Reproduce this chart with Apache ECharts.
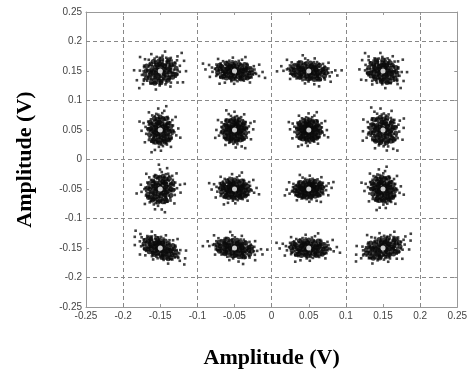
<!DOCTYPE html>
<html>
<head>
<meta charset="utf-8">
<script src="https://cdn.jsdelivr.net/npm/echarts@6/dist/echarts.min.js"></script>
<style>
  html, body { margin: 0; padding: 0; background: #fff; }
  #main { width: 470px; height: 376px; }
</style>
</head>
<body>
<div id="main"></div>
<script>
// ideal constellation points (16-QAM)
var levelsX = [-0.15, -0.05, 0.05, 0.15];
var levelsY = [0.15, 0.05, -0.05, -0.15];

// per-cluster spread, row by row (top row first)
var spreadX = [0.013, 0.014, 0.014, 0.012,
               0.009, 0.009, 0.009, 0.010,
               0.010, 0.011, 0.011, 0.009,
               0.014, 0.014, 0.014, 0.014];
var spreadY = [0.011, 0.008, 0.008, 0.010,
               0.013, 0.011, 0.010, 0.013,
               0.013, 0.009, 0.008, 0.012,
               0.008, 0.008, 0.008, 0.009];
var tilt = [30, -5, -10, -35,
            0, 5, -5, 10,
            -10, 0, 5, 5,
            -30, -15, 0, 20];
var mirror = [1, -1, 1, -1,
              -1, 1, -1, 1,
              1, -1, 1, -1,
              -1, 1, -1, 1];

// received noise offsets (tenths of one spread unit), estimated shape of a cloud
var noiseDx = [0, 4, -5, 2, -3, 8, -8, 6, -6, 1, 10, -11, 3, -2, 11, -10, 7, -6, 9, -9,
  5, -4, 2, -1, 12, -12, 0, 1, -2, 3, 6, -6, 4, -3, 8, -8, 10, -11, 5, -4,
  13, -13, 1, -3, 9, -8, 12, -12, 7, -7, 0, 7, -7, 1, 3, -3, 5, -5, 9, -9,
  13, -12, 4, -5, 15, -14, 2, -1, 6, -6,
  17, -18, 16, -15, 8, -9, -11, 10, 19, -20, 3, -2, 14, -15, 13, -12, 21, -19, 6, -4,
  18, -17, 12, -10, 17, -18, 22, -21, 2, -3,
  25, -24, 8, -6, 23, -23, 17, -16, 28, -27, 3, -1, 31, -30, 13, -9];
var noiseDy = [3, -2, 1, 7, -6, 2, -3, -7, 6, -10, 5, -1, 11, -12, -4, 4, 9, -9, -8, 7,
  4, -3, -5, 5, 1, 3, 12, -1, 2, -3, 1, -2, 8, -8, -5, 5, -10, 9, -12, 11,
  4, -5, 14, -14, 12, -11, 8, -7, -13, 13, -7, -1, 0, 8, 2, -1, -6, 3, 5, -6,
  -7, 8, -15, 15, -1, 0, 16, -16, 13, -13,
  7, -5, -10, 10, 18, -17, 17, -17, 2, -1, 20, -19, 14, -12, -15, 15, -5, 6, 21, -21,
  11, -11, 19, -19, -13, 13, 4, -3, -22, 22,
  9, -7, -26, 25, -16, 17, 23, -22, -1, 2, 28, -27, 11, -10, -29, 31];

// the solid dark body of each cloud
var coreDx = [1, -3, 5, -4, 2, 0,
  7, -2, 4, -8, 9, -6, 3, -9, 8, -7, 6, -10, 1, 11, -1,
  14, -14, 13, -12, 10, -11, 5, -4, 3, -6, 16, -16, 15, -15, 9, -9, 12, -13, 0, 1, 17, -17, 7, -7];
var coreDy = [2, 4, -1, -3, -5, 0,
  4, 8, 9, 1, -3, -8, -9, -6, -7, 7, 7, 3, 10, -1, -11,
  2, -2, 8, 9, -12, -12, 14, 15, -15, -14, -6, 5, 10, -9, 15, 15, -14, -13, 17, -17, 1, -1, -16, -16];

var gridLines = [-0.2, -0.1, 0, 0.1, 0.2];

function spread(dxList, dyList) {
  var out = [];
  for (var r = 0; r < levelsY.length; r++) {
    for (var c = 0; c < levelsX.length; c++) {
      var k = r * 4 + c;
      var a = tilt[k] * Math.PI / 180;
      for (var i = 0; i < dxList.length; i++) {
        var u = mirror[k] * dxList[i] / 10 * spreadX[k];
        var v = dyList[i] / 10 * spreadY[k];
        out.push([levelsX[c] + u * Math.cos(a) - v * Math.sin(a),
                  levelsY[r] + u * Math.sin(a) + v * Math.cos(a)]);
      }
    }
  }
  return out;
}

var cloud = spread(noiseDx, noiseDy);
var core = spread(coreDx, coreDy);
var centers = [];
levelsY.forEach(function (y) {
  levelsX.forEach(function (x) { centers.push([x, y]); });
});

var myChart = echarts.init(document.getElementById("main"));

var tickLabel = { fontFamily: "Liberation Sans", fontSize: 10, color: "#444", margin: 4 };
var frame = { show: true, onZero: false, lineStyle: { color: "#999", width: 1 } };
var tick = { show: true, inside: true, length: 3, lineStyle: { color: "#999" } };
var dashed = { color: "#888", type: [4, 3], width: 1 };
var titleFont = { fontFamily: "Liberation Serif", fontWeight: "bold", fontSize: 22, color: "#000" };

myChart.setOption({
  animation: false,
  grid: { left: 86, right: 11, top: 12, bottom: 69 },
  xAxis: [
    {
      type: "value", min: -0.25, max: 0.25, interval: 0.05, position: "bottom",
      axisLine: frame, axisTick: tick, splitLine: { show: false },
      axisLabel: tickLabel,
      name: "Amplitude (V)", nameLocation: "middle", nameGap: 40,
      nameTextStyle: titleFont
    },
    {
      type: "value", min: -0.25, max: 0.25, interval: 0.05, position: "top",
      axisLine: frame, axisTick: tick, splitLine: { show: false }, axisLabel: { show: false }
    }
  ],
  yAxis: [
    {
      type: "value", min: -0.25, max: 0.25, interval: 0.05, position: "left",
      axisLine: frame, axisTick: tick, splitLine: { show: false },
      axisLabel: tickLabel,
      name: "Amplitude (V)", nameLocation: "middle", nameGap: 50,
      nameTextStyle: titleFont
    },
    {
      type: "value", min: -0.25, max: 0.25, interval: 0.05, position: "right",
      axisLine: frame, axisTick: tick, splitLine: { show: false }, axisLabel: { show: false }
    }
  ],
  series: [
    {
      type: "scatter",
      data: cloud,
      symbol: "rect",
      symbolSize: 2.6,
      itemStyle: { color: "#111" },
      markLine: {
        silent: true,
        symbol: "none",
        label: { show: false },
        lineStyle: dashed,
        data: gridLines.map(function (g) { return { xAxis: g }; })
          .concat(gridLines.map(function (g) { return { yAxis: g }; }))
      },
      z: 2
    },
    {
      type: "scatter",
      data: core,
      symbol: "circle",
      symbolSize: 5,
      itemStyle: { color: "#0a0a0a" },
      z: 2
    },
    {
      type: "scatter",
      data: centers,
      symbol: "circle",
      symbolSize: 5,
      itemStyle: { color: "#fff" },
      z: 3
    }
  ]
});
</script>
</body>
</html>
